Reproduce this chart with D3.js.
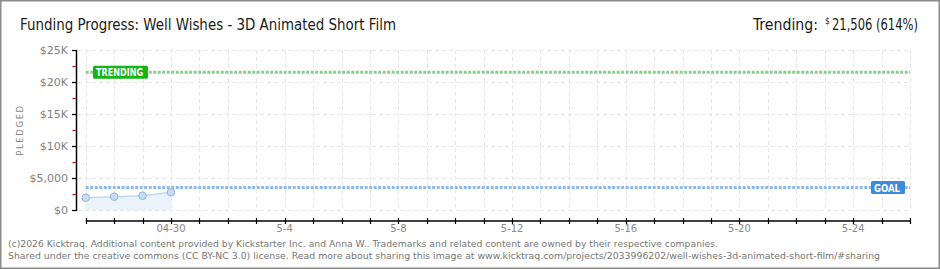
<!DOCTYPE html>
<html>
<head>
<meta charset="utf-8">
<script src="https://cdn.jsdelivr.net/npm/d3@7"></script>
<style>
  body { margin: 0; background: #fff; }
  svg { display: block; }
</style>
</head>
<body>
<div id="chart"></div>
<script>
// Data
const dates = ["2026-04-27", "2026-04-28", "2026-04-29", "2026-04-30"];
const pledged = [1920, 2080, 2230, 2770];
const goal = 3500;
const trending = 21506;
const yTicks = [0, 5000, 10000, 15000, 20000, 25000];
const yTickLabels = ["$0", "$5,000", "$10K", "$15K", "$20K", "$25K"];
const xLabelDates = ["2026-04-30", "2026-05-04", "2026-05-08", "2026-05-12", "2026-05-16", "2026-05-20", "2026-05-24"];
const xLabels = ["04-30", "5-4", "5-8", "5-12", "5-16", "5-20", "5-24"];

const width = 940, height = 270;
const parse = d3.timeParse("%Y-%m-%d");
const condensed = "DejaVu Sans Condensed, Liberation Sans Narrow, sans-serif";

const svg = d3.select("#chart").append("svg")
    .attr("width", width)
    .attr("height", height);

// Frame
svg.append("rect")
    .attr("x", 0.75).attr("y", 0.75)
    .attr("width", width - 1.5).attr("height", height - 2.5)
    .attr("fill", "#fff")
    .attr("stroke", "#8a8a8a")
    .attr("stroke-width", 1.5);

// Scales
const x = d3.scaleTime()
    .domain([parse("2026-04-27"), parse("2026-05-26")])
    .range([85.7, 910]);

const y = d3.scaleLinear()
    .domain([0, 25000])
    .range([210, 50]);

const days = d3.timeDay.range(parse("2026-04-27"), d3.timeDay.offset(parse("2026-05-26"), 1));

// Grid
svg.append("g").selectAll("line")
    .data(days)
    .enter().append("line")
    .attr("x1", d => Math.round(x(d)) + 0.5).attr("x2", d => Math.round(x(d)) + 0.5)
    .attr("y1", 50).attr("y2", 210)
    .attr("stroke", "#e6e6e6")
    .attr("stroke-dasharray", "4,3");

svg.append("g").selectAll("line")
    .data(yTicks)
    .enter().append("line")
    .attr("x1", 78).attr("x2", 910)
    .attr("y1", d => y(d) + 0.5).attr("y2", d => y(d) + 0.5)
    .attr("stroke", "#e6e6e6")
    .attr("stroke-dasharray", "4,3");

// Area + line of pledged amounts
const pts = dates.map((d, i) => ({ date: parse(d), value: pledged[i] }));

svg.append("path")
    .datum(pts)
    .attr("fill", "#eaf2fc")
    .attr("d", d3.area().x(d => x(d.date)).y0(y(0)).y1(d => y(d.value)));

svg.append("path")
    .datum(pts)
    .attr("fill", "none")
    .attr("stroke", "#c2d8f2")
    .attr("stroke-width", 1.5)
    .attr("d", d3.line().x(d => x(d.date)).y(d => y(d.value)));

// Goal and trending lines
function dottedLine(value, color) {
    svg.append("line")
        .attr("x1", x.range()[0]).attr("x2", x.range()[1])
        .attr("y1", y(value)).attr("y2", y(value))
        .attr("stroke", color)
        .attr("stroke-width", 3)
        .attr("stroke-dasharray", "3,1.5");
}
dottedLine(goal, "#8db9eb");
dottedLine(trending, "#88d088");

// Points
svg.append("g").selectAll("circle")
    .data(pts)
    .enter().append("circle")
    .attr("cx", d => x(d.date))
    .attr("cy", d => y(d.value))
    .attr("r", 3.8)
    .attr("fill", "#c6dcf5")
    .attr("stroke", "#93b3da")
    .attr("stroke-width", 1);

// Y axis
const yAxis = svg.append("g");
yAxis.append("line")
    .attr("x1", 76.5).attr("x2", 76.5)
    .attr("y1", 50).attr("y2", 211)
    .attr("stroke", "#000").attr("stroke-width", 1.5);
yAxis.selectAll(".major")
    .data(yTicks)
    .enter().append("line")
    .attr("x1", 72).attr("x2", 77)
    .attr("y1", d => y(d) + 0.5).attr("y2", d => y(d) + 0.5)
    .attr("stroke", "#000").attr("stroke-width", 1.2);
yAxis.selectAll(".minor")
    .data(d3.range(2500, 25000, 5000))
    .enter().append("line")
    .attr("x1", 72.5).attr("x2", 76)
    .attr("y1", d => y(d) + 0.5).attr("y2", d => y(d) + 0.5)
    .attr("stroke", "#e00000").attr("stroke-width", 1);
yAxis.selectAll("text")
    .data(yTicks)
    .enter().append("text")
    .attr("x", 68)
    .attr("y", d => y(d) + 4)
    .attr("text-anchor", "end")
    .attr("fill", "#828282")
    .style("font-family", "DejaVu Sans")
    .style("font-size", "11px")
    .text((d, i) => yTickLabels[i]);

svg.append("text")
    .attr("transform", "translate(23,130) rotate(-90)")
    .attr("text-anchor", "middle")
    .attr("fill", "#8a8a8a")
    .style("font-family", "DejaVu Sans")
    .style("font-size", "8.5px")
    .style("letter-spacing", "1.6px")
    .text("PLEDGED");

// X axis
const xAxis = svg.append("g");
xAxis.append("line")
    .attr("x1", x.range()[0]).attr("x2", x.range()[1] + 0.5)
    .attr("y1", 221).attr("y2", 221)
    .attr("stroke", "#000").attr("stroke-width", 1.5);
xAxis.selectAll(".tick")
    .data(days)
    .enter().append("line")
    .attr("x1", d => Math.round(x(d)) + 0.5).attr("x2", d => Math.round(x(d)) + 0.5)
    .attr("y1", 218).attr("y2", 224)
    .attr("stroke", "#000").attr("stroke-width", 1.2);
xAxis.selectAll("text")
    .data(xLabelDates)
    .enter().append("text")
    .attr("x", d => x(parse(d)))
    .attr("y", 232)
    .attr("text-anchor", "middle")
    .attr("fill", "#8a8a8a")
    .style("font-family", "DejaVu Sans")
    .style("font-size", "10px")
    .text((d, i) => xLabels[i]);

// Badges
function badge(xPos, yVal, w, label, fill) {
    const g = svg.append("g");
    g.append("rect")
        .attr("x", xPos).attr("y", y(yVal) - 6.5)
        .attr("width", w).attr("height", 13)
        .attr("rx", 1.5)
        .attr("fill", fill);
    g.append("text")
        .attr("x", xPos + 3).attr("y", y(yVal) + 4)
        .attr("fill", "#fff")
        .attr("textLength", w - 8)
        .attr("lengthAdjust", "spacingAndGlyphs")
        .style("font-family", "DejaVu Sans")
        .style("font-weight", "bold")
        .style("font-size", "10.5px")
        .text(label);
}
badge(93, trending, 55, "TRENDING", "#16b416");
badge(871, goal, 34, "GOAL", "#3d8bdb");

// Title
svg.append("text")
    .attr("x", 20).attr("y", 30)
    .attr("fill", "#1a1a1a")
    .attr("textLength", 376)
    .attr("lengthAdjust", "spacingAndGlyphs")
    .style("font-family", condensed)
    .style("font-size", "15px")
    .text("Funding Progress: Well Wishes - 3D Animated Short Film");

svg.append("text")
    .attr("x", 753).attr("y", 30)
    .attr("fill", "#1a1a1a")
    .attr("textLength", 65)
    .attr("lengthAdjust", "spacingAndGlyphs")
    .style("font-family", condensed)
    .style("font-size", "15px")
    .text("Trending:");
svg.append("text")
    .attr("x", 825).attr("y", 24)
    .attr("fill", "#1a1a1a")
    .style("font-family", condensed)
    .style("font-size", "8.5px")
    .text("$");
svg.append("text")
    .attr("x", 832).attr("y", 30)
    .attr("fill", "#1a1a1a")
    .attr("textLength", 86)
    .attr("lengthAdjust", "spacingAndGlyphs")
    .style("font-family", condensed)
    .style("font-size", "15px")
    .text(d3.format(",")(trending) + " (" + Math.round(trending / goal * 100) + "%)");

// Footer
const footer = [
    "(c)2026 Kicktraq. Additional content provided by Kickstarter Inc. and Anna W.. Trademarks and related content are owned by their respective companies.",
    "Shared under the creative commons (CC BY-NC 3.0) license. Read more about sharing this image at www.kicktraq.com/projects/2033996202/well-wishes-3d-animated-short-film/#sharing"
];
const footerWidths = [710, 872];
svg.selectAll(".footer")
    .data(footer)
    .enter().append("text")
    .attr("x", 8)
    .attr("y", (d, i) => 246.5 + i * 12)
    .attr("fill", "#777")
    .attr("textLength", (d, i) => footerWidths[i])
    .attr("lengthAdjust", "spacingAndGlyphs")
    .style("font-family", "DejaVu Sans")
    .style("font-size", "9.5px")
    .text(d => d);
</script>
</body>
</html>
